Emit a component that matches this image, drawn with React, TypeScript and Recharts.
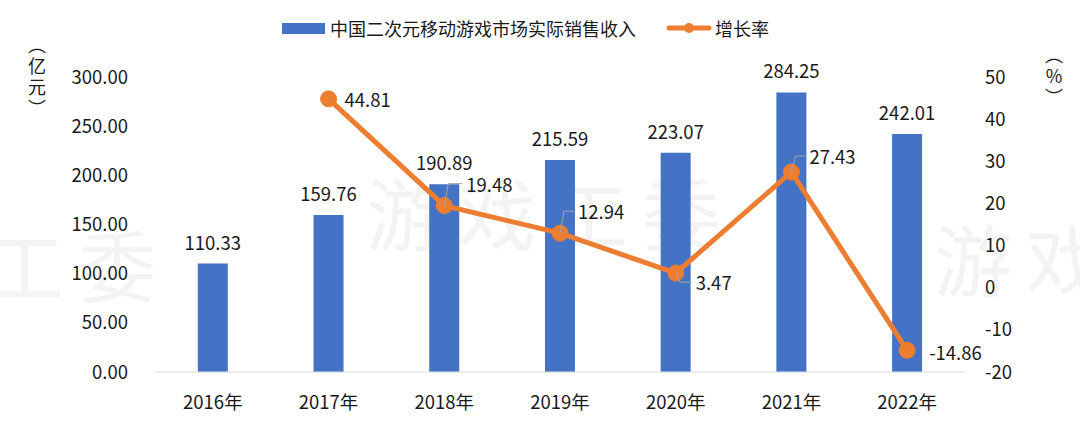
import React from 'react';
import {
	ComposedChart,
	Bar,
	Line,
	XAxis,
	YAxis,
	LabelList,
} from 'recharts';

const years = ['2016年', '2017年', '2018年', '2019年', '2020年', '2021年', '2022年'];
const revenue = [110.33, 159.76, 190.89, 215.59, 223.07, 284.25, 242.01];
const growth: (number | null)[] = [null, 44.81, 19.48, 12.94, 3.47, 27.43, -14.86];
const leftTicks = [0, 50, 100, 150, 200, 250, 300];
const rightTicks = [-20, -10, 0, 10, 20, 30, 40, 50];

const BLUE = '#4472C4';
const ORANGE = '#ED7D31';
const FONT = '"Noto Sans CJK SC", "Noto Sans", sans-serif';
const FS = 18.5;

const data = years.map((y, i) => ({ year: y, revenue: revenue[i], growth: growth[i] }));

// label placement for growth values: [dx, dy, leader]
const GROWTH_LABEL_POS: [number, number, boolean][] = [
	[0, 0, false],
	[16, 0, false],
	[22, -22, true],
	[18, -22, true],
	[20, 9, true],
	[18, -16, true],
	[22, 2, false],
];

function GrowthLabel(props: any) {
	const { x, y, value, index } = props;
	if (value == null) return null;
	const [dx, dy, leader] = GROWTH_LABEL_POS[index] ?? [16, 0, false];
	return (
		<g>
			{leader && (
				<polyline
					points={`${x},${y} ${x + 4},${y + dy} ${x + dx - 4},${y + dy}`}
					fill="none"
					stroke="#a6a6a6"
					strokeWidth={1}
				/>
			)}
			<text
				x={x + dx}
				y={y + dy}
				dominantBaseline="central"
				fontSize={FS}
				fill="#1a1a1a"
				fontFamily={FONT}
			>
				{value.toFixed(2)}
			</text>
		</g>
	);
}

function ChartLegend() {
	return (
		<div
			style={{
				position: 'absolute',
				left: 282,
				top: 15,
				display: 'flex',
				alignItems: 'center',
				fontFamily: FONT,
				fontSize: 18,
				color: '#1a1a1a',
				whiteSpace: 'nowrap',
			}}
		>
			<span style={{ display: 'inline-block', width: 43, height: 11, background: BLUE, marginRight: 5 }} />
			<span>中国二次元移动游戏市场实际销售收入</span>
			<span style={{ display: 'inline-block', width: 30 }} />
			<svg width={46} height={12} style={{ marginRight: 3 }}>
				<line x1={3} y1={6} x2={43} y2={6} stroke={ORANGE} strokeWidth={5} strokeLinecap="round" />
				<circle cx={23} cy={6} r={5} fill={ORANGE} />
			</svg>
			<span>增长率</span>
		</div>
	);
}

function VerticalTitle({ chars, left, top }: { chars: string[]; left: number; top: number }) {
	return (
		<div
			style={{
				position: 'absolute',
				left,
				top,
				display: 'flex',
				flexDirection: 'column',
				alignItems: 'center',
				fontFamily: FONT,
				fontSize: 18,
				lineHeight: '21px',
				color: '#1a1a1a',
			}}
		>
			{chars.map((c, i) => (
				<span key={i}>{c}</span>
			))}
		</div>
	);
}

const watermark: React.CSSProperties = {
	position: 'absolute',
	fontFamily: FONT,
	fontSize: 78,
	color: '#f3f3f3',
	letterSpacing: 14,
	whiteSpace: 'nowrap',
	lineHeight: 1,
};

export default function App() {
	return (
		<div style={{ position: 'absolute', left: 0, top: 0, width: 1080, height: 432, background: '#fff', overflow: 'hidden' }}>
			<div style={{ ...watermark, left: -14, top: 224 }}>工委</div>
			<div style={{ ...watermark, left: 366, top: 172 }}>游戏工委</div>
			<div style={{ ...watermark, left: 934, top: 218 }}>游戏</div>
			<VerticalTitle chars={['︵', '亿', '元', '︶']} left={28} top={34} />
			<VerticalTitle chars={['︵', '%', '︶']} left={1045} top={44} />
			<ChartLegend />
			<div style={{ position: 'absolute', left: 0, top: 0 }}>
				<ComposedChart
					width={1080}
					height={432}
					data={data}
					margin={{ top: 77, right: 0, bottom: 30, left: 0 }}
					barCategoryGap="37%"
				>
					<XAxis
						dataKey="year"
						height={30}
						axisLine={{ stroke: '#d9d9d9' }}
						tickLine={{ stroke: '#d9d9d9' }}
						tickSize={0}
						tickMargin={24}
						tick={{ fontSize: FS, fill: '#1a1a1a', fontFamily: FONT }}
					/>
					<YAxis
						yAxisId="left"
						orientation="left"
						width={155}
						domain={[0, 300]}
						ticks={leftTicks}
						interval={0}
						axisLine={false}
						tickLine={false}
						tickSize={0}
						tickMargin={27}
						tickFormatter={(v: number) => v.toFixed(2)}
						tick={{ fontSize: FS, fill: '#1a1a1a', fontFamily: FONT }}
					/>
					<YAxis
						yAxisId="right"
						orientation="right"
						width={115}
						domain={[-20, 50]}
						ticks={rightTicks}
						interval={0}
						axisLine={false}
						tickLine={false}
						tickSize={0}
						tickMargin={20}
						tick={{ fontSize: FS, fill: '#1a1a1a', fontFamily: FONT, textAnchor: 'start' }}
					/>
					<Bar yAxisId="left" dataKey="revenue" fill={BLUE} isAnimationActive={false}>
						<LabelList
							dataKey="revenue"
							position="top"
							offset={14}
							formatter={(v: number) => v.toFixed(2)}
							style={{ fontSize: FS, fill: '#1a1a1a', fontFamily: FONT }}
						/>
					</Bar>
					<Line
						yAxisId="right"
						dataKey="growth"
						stroke={ORANGE}
						strokeWidth={5}
						dot={{ r: 8, fill: ORANGE, stroke: ORANGE, strokeWidth: 1 }}
						isAnimationActive={false}
						connectNulls
					>
						<LabelList dataKey="growth" content={<GrowthLabel />} />
					</Line>
				</ComposedChart>
			</div>
		</div>
	);
}
